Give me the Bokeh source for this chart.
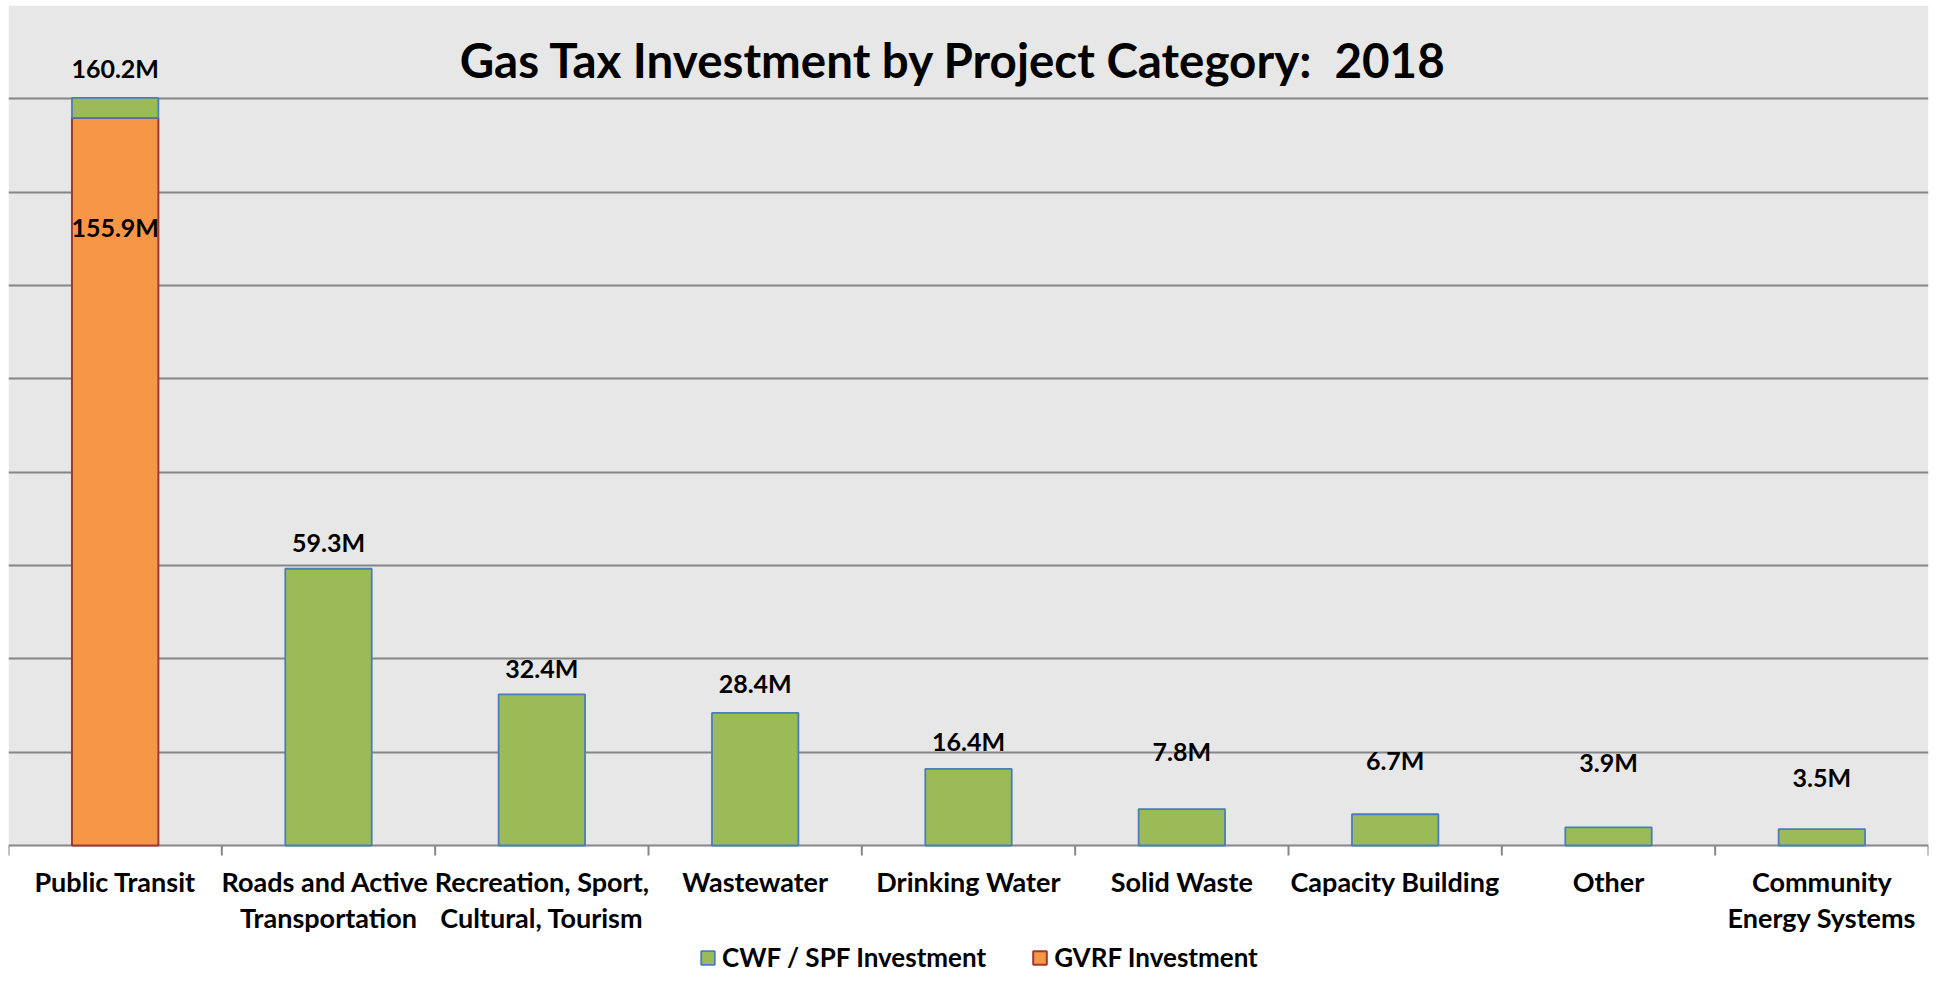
from bokeh.plotting import figure
from bokeh.models import (ColumnDataSource, FixedTicker, Range1d, Legend, LegendItem, Label,
                          Grid, BoxAnnotation)
from bokeh.core.properties import value
from bokeh.embed import file_html
from bokeh.resources import INLINE

# ---------------- data ----------------
categories = ["Public Transit", "Roads and  Active\nTransportation", "Recreation, Sport,\nCultural, Tourism",
              "Wastewater", "Drinking Water", "Solid Waste", "Capacity Building", "Other",
              "Community\nEnergy Systems"]
totals = [160.2, 59.3, 32.4, 28.4, 16.4, 7.8, 6.7, 3.9, 3.5]
gvrf = [155.9, 0, 0, 0, 0, 0, 0, 0, 0]
y_ticks = [0, 20, 40, 60, 80, 100, 120, 140, 160, 180]
title_text = "Gas Tax Investment by Project Category:\u00a0 2018"
series_names = ["CWF / SPF Investment", "GVRF Investment"]

# ---------------- layout / style ----------------
label_lift_px = [30, 27, 26, 30, 28, 58, 54, 65, 52]
gvrf_label_drop_px = 109
FONT = "Lato"
GREEN, GREEN_LINE = "#9BBB59", "#4A7EBB"
ORANGE, ORANGE_LINE = "#F79646", "#9C3B33"
GRID = "#868686"
PLOT_H = 840          # pixel height of the 0..180 plotting band
FRAME_H = 968         # frame also holds the category labels and the legend
px_per_unit = PLOT_H / (y_ticks[-1] - y_ticks[0])
y_start = y_ticks[-1] - FRAME_H / px_per_unit
tick_len = 10 / px_per_unit

n = len(categories)
xs = [i + 0.5 for i in range(n)]
boundaries = list(range(n + 1))
first_lines = [c.split("\n")[0] for c in categories]
second_lines = [c.split("\n")[1] if "\n" in c else "" for c in categories]

p = figure(frame_width=1920, frame_height=FRAME_H, x_range=Range1d(0, n),
           y_range=Range1d(y_start, y_ticks[-1]),
           output_backend="svg", toolbar_location=None,
           x_axis_location=None, y_axis_location=None,
           min_border_left=8, min_border_right=2, min_border_top=5, min_border_bottom=0,
           background_fill_color="white", border_fill_color="white", outline_line_color=None)
for g in p.grid:
    g.visible = False

# grey plotting band and horizontal gridlines
p.add_layout(BoxAnnotation(bottom=y_ticks[0], fill_color="#E7E7E7", fill_alpha=1,
                           line_color=None, level="underlay"))
p.add_layout(Grid(dimension=1, ticker=FixedTicker(ticks=y_ticks),
                  grid_line_color=GRID, grid_line_width=2))

# category boundary ticks below the baseline
p.segment(x0=boundaries, x1=boundaries, y0=[0] * len(boundaries), y1=[-tick_len] * len(boundaries),
          line_color=GRID, line_width=2)

# orange (GVRF) segments, only where present
o_idx = [i for i, g in enumerate(gvrf) if g > 0]
src_o = ColumnDataSource(dict(x=[xs[i] for i in o_idx], top=[gvrf[i] for i in o_idx]))
r_o = p.vbar(x="x", top="top", bottom=0, width=0.405, source=src_o,
             fill_color=ORANGE, line_color=ORANGE_LINE, line_width=2)

src_g = ColumnDataSource(dict(x=xs, bottom=gvrf, top=totals))
r_g = p.vbar(x="x", top="top", bottom="bottom", width=0.405, source=src_g,
             fill_color=GREEN, line_color=GREEN_LINE, line_width=1.8)

text_common = dict(text_align="center", text_baseline="middle", text_font=value(FONT),
                   text_font_style="bold", text_color="black")

# value labels
p.text(x=xs, y=totals, text=[f"{t:.1f}M" for t in totals], y_offset=[-l for l in label_lift_px],
       text_font_size="25px", **text_common)
p.text(x=[xs[i] for i in o_idx], y=[gvrf[i] for i in o_idx],
       text=[f"{gvrf[i]:.1f}M" for i in o_idx], y_offset=gvrf_label_drop_px,
       text_font_size="25px", **text_common)

# category labels (two lines)
p.text(x=xs, y=[0] * n, text=first_lines, y_offset=36, text_font_size="27px", **text_common)
p.text(x=xs, y=[0] * n, text=second_lines, y_offset=72, text_font_size="27px", **text_common)

# title inside the plot area
p.add_layout(Label(x=n / 2, y=y_ticks[-1], x_offset=-15, y_offset=-54, text=title_text,
                   text_align="center", text_baseline="middle", text_font=FONT,
                   text_font_style="bold", text_font_size="47.5px", text_color="black"))

legend = Legend(items=[LegendItem(label=series_names[0], renderers=[r_g]),
                       LegendItem(label=series_names[1], renderers=[r_o])],
                orientation="horizontal", location=(691, 0),
                label_text_font=FONT, label_text_font_style="bold", label_text_font_size="26px",
                label_text_color="black", glyph_width=17, glyph_height=17, label_standoff=6,
                spacing=45, padding=0, margin=0, label_height=20,
                border_line_color=None, background_fill_alpha=0)
p.add_layout(legend, "center")

open("out.html", "w").write(file_html(p, INLINE))
